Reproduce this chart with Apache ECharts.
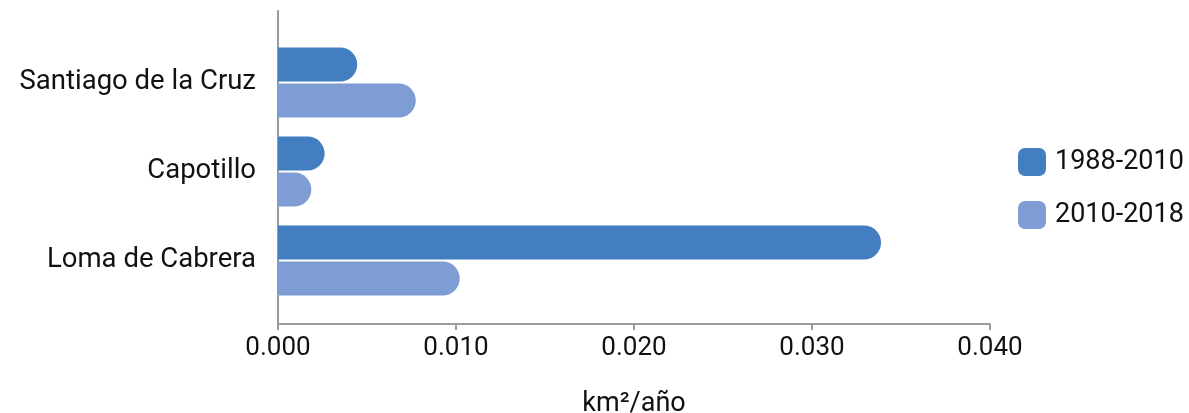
<!DOCTYPE html>
<html>
<head>
<meta charset="utf-8">
<script src="https://cdn.jsdelivr.net/npm/echarts@6/dist/echarts.min.js"></script>
<style>html,body{margin:0;padding:0;background:#fff}#c{width:1189px;height:413px}</style>
</head>
<body>
<div id="c"></div>
<script>
const categories = ['Santiago de la Cruz', 'Capotillo', 'Loma de Cabrera'];
const seriesNames = ['1988-2010', '2010-2018'];
const values1988_2010 = [0.00445, 0.00262, 0.03388];
const values2010_2018 = [0.00774, 0.00187, 0.01021];
const xTicks = [0, 0.01, 0.02, 0.03, 0.04];
const axisTitle = 'km²/año';

const FONT = 'Roboto';
const chart = echarts.init(document.getElementById('c'), null, {renderer: 'canvas'});
const axisColor = '#9a9a9a';
chart.setOption({
  animation: false,
  backgroundColor: '#fff',
  textStyle: {fontFamily: FONT},
  legend: {
    orient: 'vertical', left: 1013, top: 143,
    itemWidth: 28, itemHeight: 28, itemGap: 25,
    icon: 'roundRect',
    textStyle: {fontSize: 27, lineHeight: 28, color: '#111', fontFamily: FONT, padding: [0, 0, 0, 4]},
    data: seriesNames
  },
  grid: [
    {left: 278, right: 199, top: 11, bottom: 89, containLabel: false, outerBoundsMode: 'none'},
    {left: 278, right: 199, top: 38, height: 267, containLabel: false, outerBoundsMode: 'none'}
  ],
  xAxis: [
    {
      gridIndex: 0, type: 'value', min: xTicks[0], max: xTicks[xTicks.length - 1], interval: 0.01,
      axisLine: {show: true, lineStyle: {color: axisColor, width: 2}},
      axisTick: {show: true, length: 6, lineStyle: {color: axisColor, width: 2}},
      splitLine: {show: false},
      axisLabel: {fontSize: 26, color: '#111', margin: 11, formatter: v => v.toFixed(3)},
      name: axisTitle, nameLocation: 'middle', nameGap: 67,
      nameTextStyle: {fontSize: 27, color: '#111'}
    },
    {
      gridIndex: 1, type: 'value', min: xTicks[0], max: xTicks[xTicks.length - 1], interval: 0.01,
      show: false
    }
  ],
  yAxis: [
    {
      gridIndex: 0, type: 'category', data: categories, inverse: true,
      axisLine: {show: true, lineStyle: {color: axisColor, width: 2}},
      axisTick: {show: false}, axisLabel: {show: false}, splitLine: {show: false}
    },
    {
      gridIndex: 1, type: 'category', data: categories, inverse: true,
      axisLine: {show: false}, axisTick: {show: false}, splitLine: {show: false},
      axisLabel: {fontSize: 27.5, color: '#111', margin: 22}
    }
  ],
  series: [
    {
      name: seriesNames[0], type: 'bar', xAxisIndex: 1, yAxisIndex: 1,
      data: values1988_2010, barWidth: 34, barGap: '6%',
      itemStyle: {color: '#427EC0', borderRadius: [0, 17, 17, 0]}
    },
    {
      name: seriesNames[1], type: 'bar', xAxisIndex: 1, yAxisIndex: 1,
      data: values2010_2018, barWidth: 34, barGap: '6%',
      itemStyle: {color: '#7E9DD5', borderRadius: [0, 17, 17, 0]}
    }
  ]
});
</script>
</body>
</html>
